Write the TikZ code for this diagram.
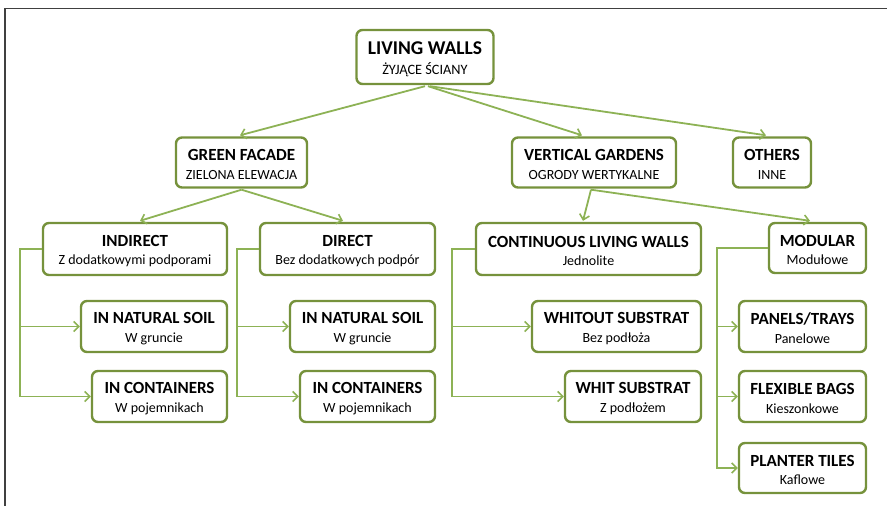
\documentclass[tikz,border=0pt]{standalone}
\usepackage{fontspec}
\setmainfont{Carlito}
\usetikzlibrary{arrows.meta,calc}
\definecolor{boxgreen}{HTML}{76923C}
\definecolor{linegreen}{HTML}{8DB255}
\definecolor{framegray}{HTML}{404040}
\tikzset{
  box/.style={draw=boxgreen, line width=2.4pt, rounded corners=6pt, fill=white,
    align=center, inner sep=0pt, font=\fontsize{14}{18.5}\selectfont},
  conn/.style={draw=linegreen, line width=1.8pt,
    -{Straight Barb[length=5pt,width=10pt,line width=1.6pt]}},
}
\newcommand{\ttl}[1]{{\fontsize{17}{18.5}\selectfont\bfseries\rule{0pt}{15pt}#1}}
\begin{document}
\begin{tikzpicture}[x=1pt,y=-1pt]
\useasboundingbox (0,0) rectangle (887,506);
\draw[framegray, line width=1.6pt] (887,8.5) -- (5,8.5) -- (5,506);

% level 0
\node[box, minimum width=137pt, minimum height=54pt, font=\fontsize{14.3}{19.5}\selectfont] (lw) at (425,57)
  {{\fontsize{19.5}{20}\selectfont\bfseries\rule{0pt}{17pt}LIVING WALLS}\\ŻYJĄCE ŚCIANY};
% level 1
\node[box, minimum width=131pt, minimum height=50pt] (gf) at (241.5,162.5) {\ttl{GREEN FACADE}\\ZIELONA ELEWACJA};
\node[box, minimum width=164pt, minimum height=50pt] (vg) at (594,162.5) {\ttl{VERTICAL GARDENS}\\OGRODY WERTYKALNE};
\node[box, minimum width=78pt, minimum height=50pt] (ot) at (772,162.5) {\ttl{OTHERS}\\INNE};
% level 2
\node[box, minimum width=184pt, minimum height=52pt] (ind) at (135,249) {\ttl{INDIRECT}\\Z dodatkowymi podporami};
\node[box, minimum width=175pt, minimum height=52pt] (dir) at (347.5,249) {\ttl{DIRECT}\\Bez dodatkowych podpór};
\node[box, minimum width=225pt, minimum height=52pt] (con) at (588.5,249) {\ttl{CONTINUOUS LIVING WALLS}\\Jednolite};
\node[box, minimum width=97pt, minimum height=50pt] (mod) at (817.5,248) {\ttl{MODULAR}\\Modułowe};
% level 3
\node[box, minimum width=146pt, minimum height=51pt] (ins1) at (154,326.5) {\ttl{IN NATURAL SOIL}\\W gruncie};
\node[box, minimum width=135pt, minimum height=51pt] (inc1) at (159.5,396.5) {\ttl{IN CONTAINERS}\\W pojemnikach};
\node[box, minimum width=145pt, minimum height=51pt] (ins2) at (362.5,326.5) {\ttl{IN NATURAL SOIL}\\W gruncie};
\node[box, minimum width=135pt, minimum height=51pt] (inc2) at (367.5,396.5) {\ttl{IN CONTAINERS}\\W pojemnikach};
\node[box, minimum width=169pt, minimum height=51pt] (wos) at (616.5,326.5) {\ttl{WHITOUT SUBSTRAT}\\Bez podłoża};
\node[box, minimum width=136pt, minimum height=51pt] (ws) at (633,396.5) {\ttl{WHIT SUBSTRAT}\\Z podłożem};
\node[box, minimum width=127pt, minimum height=51pt] (pan) at (802.5,326.5) {\ttl{PANELS/TRAYS}\\Panelowe};
\node[box, minimum width=127pt, minimum height=51pt] (flex) at (802.5,396.5) {\ttl{FLEXIBLE BAGS}\\Kieszonkowe};
\node[box, minimum width=127pt, minimum height=50pt] (pla) at (802.5,468) {\ttl{PLANTER TILES}\\Kaflowe};

% top-level connectors
\draw[conn] ($(lw.south)+(0,1)$) -- ($(gf.north)+(-1.5,-1)$);
\draw[conn] ($(lw.south)+(3,1)$) -- ($(vg.north)+(-12,-1)$);
\draw[conn] ($(lw.south)+(5,1)$) -- ($(ot.north)+(-6,-1)$);
\draw[conn] ($(gf.south)+(0,1)$) -- ($(ind.north)+(5,-1)$);
\draw[conn] ($(gf.south)+(0,1)$) -- ($(dir.north)+(-4.5,-1)$);
\draw[conn] ($(vg.south)+(-3,1)$) -- ($(con.north)+(-5.5,-1)$);
\draw[conn] ($(vg.south)+(-3,1)$) -- ($(mod.north)+(-7.5,-1)$);

% bracket connectors
\coordinate (indx) at (20,249);
\draw[conn] (ind.west) -- (indx) |- (ins1.west);
\draw[conn] (indx) |- (inc1.west);
\coordinate (dirx) at (237,249);
\draw[conn] (dir.west) -- (dirx) |- (ins2.west);
\draw[conn] (dirx) |- (inc2.west);
\coordinate (conx) at (452,249);
\draw[conn] (con.west) -- (conx) |- (wos.west);
\draw[conn] (conx) |- (ws.west);
\coordinate (modx) at (717,248);
\draw[conn] (mod.west) -- (modx) |- (pan.west);
\draw[conn] (modx) |- (flex.west);
\draw[conn] (modx) |- (pla.west);
\end{tikzpicture}
\end{document}
